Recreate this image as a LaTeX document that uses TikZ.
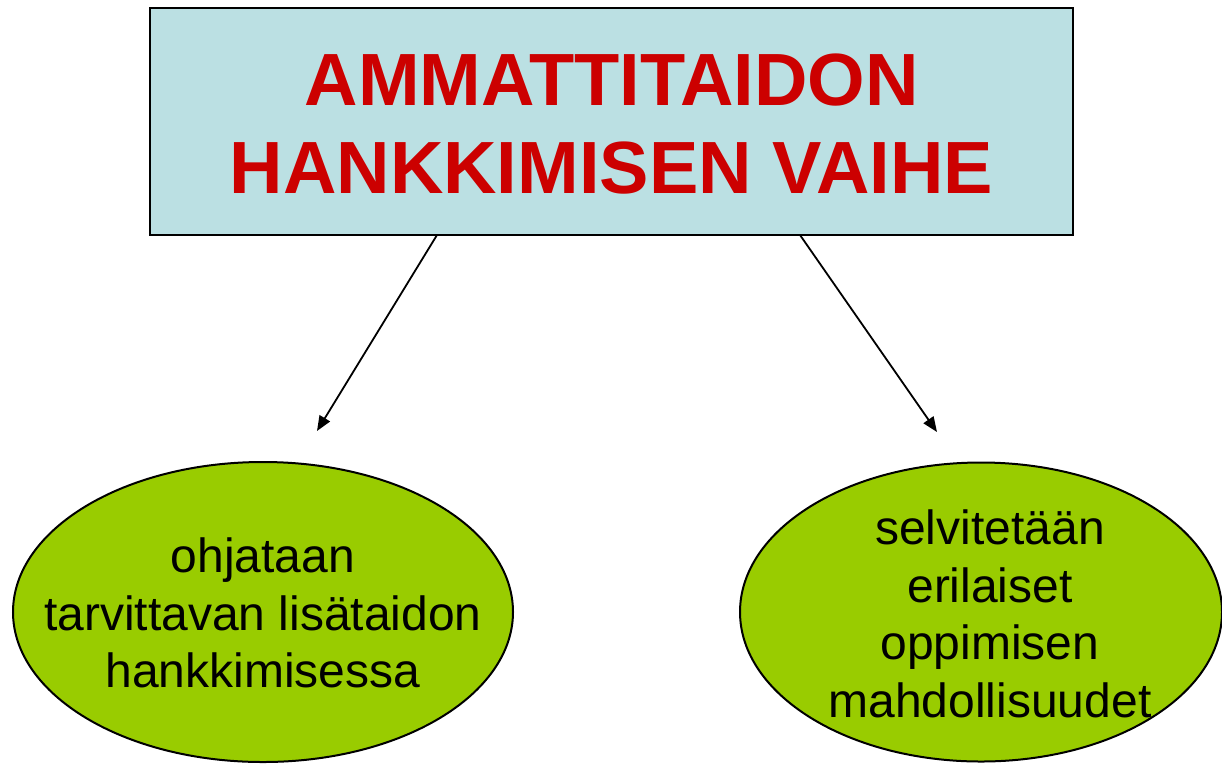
\documentclass[tikz,border=0pt]{standalone}
\usepackage{fontspec}
\setmainfont{Liberation Sans}
\usetikzlibrary{shapes.geometric,arrows.meta}
\definecolor{boxfill}{HTML}{BBE0E3}
\definecolor{titlered}{HTML}{CC0000}
\definecolor{leafgreen}{HTML}{99CC00}
\tikzset{
  titlebox/.style={draw=black, line width=2.5pt, fill=boxfill, minimum width=923pt, minimum height=227pt, inner sep=0pt},
  titletext/.style={text=titlered, font=\fontsize{74}{88}\selectfont\bfseries, align=center, inner sep=0pt},
  leaf/.style={ellipse, draw=black, line width=2pt, fill=leafgreen, inner sep=0pt},
  leaftext/.style={font=\fontsize{48}{57.5}\selectfont, align=center, inner sep=0pt},
  conn/.style={line width=1.8pt, -{Triangle[length=15pt,width=12pt]}}
}
\begin{document}
\begin{tikzpicture}
\useasboundingbox (0pt,0pt) rectangle (1222pt,-763pt);
\node[titlebox] (box) at (611.5pt,-121.5pt) {};
\node[titletext] (title) at (611.5pt,-124pt) {AMMATTITAIDON\\HANKKIMISEN VAIHE};
\node[leaf, minimum width=500pt, minimum height=300pt] (left) at (263pt,-612pt) {};
\node[leaf, minimum width=482pt, minimum height=299pt] (right) at (981pt,-612pt) {};
\node[leaftext] (lefttext) at (263pt,-613pt) {ohjataan\\tarvittavan lisätaidon\\hankkimisessa};
\node[leaftext] (righttext) at (990pt,-614pt) {selvitetään\\erilaiset\\oppimisen\\mahdollisuudet};
\coordinate (ls) at (437pt,-235pt);
\coordinate (le) at (317pt,-431pt);
\coordinate (rs) at (800pt,-235pt);
\coordinate (re) at (937pt,-432pt);
\draw[conn] (ls) -- (le);
\draw[conn] (rs) -- (re);
\end{tikzpicture}
\end{document}
